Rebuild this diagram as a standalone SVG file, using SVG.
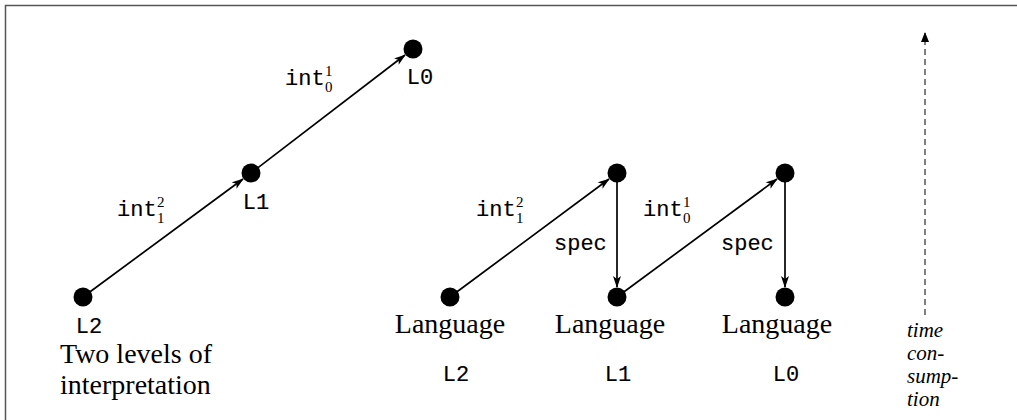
<svg xmlns="http://www.w3.org/2000/svg" width="1017" height="420" viewBox="0 0 1017 420">
<style>
.node{fill:#000}
.edge{stroke:#000;stroke-width:1.7;fill:none}
.dash{stroke:#000;stroke-width:1;fill:none;stroke-dasharray:6 4}
.rm{font-family:"Liberation Serif",serif;font-size:28px;fill:#000}
.it{font-family:"Liberation Serif",serif;font-size:21px;font-style:italic;fill:#000}
.tt{font-family:"Liberation Mono","DejaVu Sans Mono",monospace;font-size:22px;fill:#000;stroke:#000;stroke-width:0.15}
.sc{font-family:"Liberation Serif",serif;font-size:15px;fill:#000}
</style>
<defs>
<marker id="ah" markerWidth="12" markerHeight="10" refX="11" refY="4" orient="auto" markerUnits="userSpaceOnUse">
<path d="M0,0 L12,4 L0,8 L3,4 Z" fill="#000"/>
</marker>
<marker id="ah2" markerWidth="10" markerHeight="10" refX="9" refY="4" orient="auto" markerUnits="userSpaceOnUse">
<path d="M0,0 L10,4 L0,8 Z" fill="#000"/>
</marker>
</defs>
<rect width="1017" height="420" fill="#fff"/>
<path d="M5.5,420 L5.5,5.5 L1017,5.5" stroke="#555" stroke-width="1.5" fill="none"/>

<g id="connectors">
<line class="edge" x1="83" y1="297" x2="243" y2="179" marker-end="url(#ah)"/>
<line class="edge" x1="251" y1="173" x2="405" y2="55" marker-end="url(#ah)"/>
<line class="edge" x1="450" y1="297" x2="609" y2="179" marker-end="url(#ah)"/>
<line class="edge" x1="617" y1="173" x2="617" y2="287" marker-end="url(#ah)"/>
<line class="edge" x1="617" y1="297" x2="777" y2="179" marker-end="url(#ah)"/>
<line class="edge" x1="785" y1="173" x2="785" y2="287" marker-end="url(#ah)"/>
<line class="dash" x1="925" y1="315" x2="925" y2="33" marker-end="url(#ah2)"/>
</g>

<g id="left-L2"><circle class="node" cx="83" cy="297" r="9.5"/><text class="tt" x="89" y="333" text-anchor="middle">L2</text></g>
<g id="left-L1"><circle class="node" cx="251" cy="173" r="9.5"/><text class="tt" x="256" y="209" text-anchor="middle">L1</text></g>
<g id="left-L0"><circle class="node" cx="413" cy="49" r="9.5"/><text class="tt" x="420" y="84" text-anchor="middle">L0</text></g>

<g id="left-labels">
<text class="tt" x="117" y="216">int</text><text class="sc" x="157" y="207">2</text><text class="sc" x="157" y="223">1</text>
<text class="tt" x="285" y="85">int</text><text class="sc" x="325" y="76">1</text><text class="sc" x="325" y="92">0</text>
<text class="rm" x="60" y="363">Two levels of</text>
<text class="rm" x="60" y="394">interpretation</text>
</g>

<g id="right-L2"><circle class="node" cx="450" cy="297" r="9.5"/><text class="rm" x="450" y="333" text-anchor="middle">Language</text><text class="tt" x="456" y="381" text-anchor="middle">L2</text></g>
<g id="right-L1top"><circle class="node" cx="617" cy="173" r="9.5"/></g>
<g id="right-L1"><circle class="node" cx="617" cy="297" r="9.5"/><text class="rm" x="610" y="333" text-anchor="middle">Language</text><text class="tt" x="618" y="381" text-anchor="middle">L1</text></g>
<g id="right-L0top"><circle class="node" cx="785" cy="173" r="9.5"/></g>
<g id="right-L0"><circle class="node" cx="785" cy="297" r="9.5"/><text class="rm" x="777" y="333" text-anchor="middle">Language</text><text class="tt" x="786" y="381" text-anchor="middle">L0</text></g>

<g id="right-labels">
<text class="tt" x="476" y="216">int</text><text class="sc" x="516" y="207">2</text><text class="sc" x="516" y="223">1</text>
<text class="tt" x="643" y="216">int</text><text class="sc" x="683" y="207">1</text><text class="sc" x="683" y="223">0</text>
<text class="tt" x="554" y="250">spec</text>
<text class="tt" x="721" y="250">spec</text>
</g>

<g id="time-label">
<text class="it" x="907" y="337">time</text>
<text class="it" x="907" y="360">con-</text>
<text class="it" x="907" y="383">sump-</text>
<text class="it" x="907" y="406">tion</text>
</g>
</svg>
